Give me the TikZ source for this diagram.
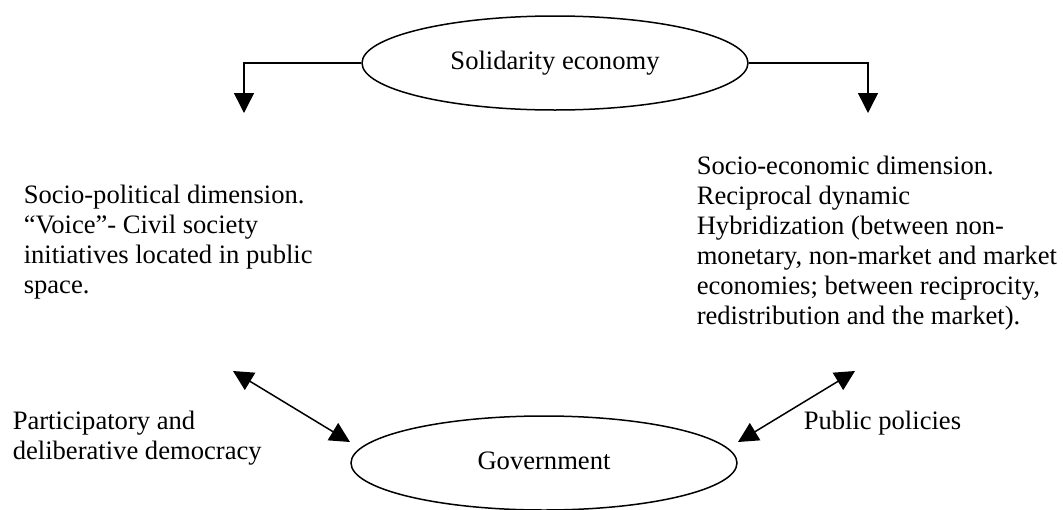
\documentclass[tikz,border=0pt]{standalone}
\usepackage{fontspec}
\setmainfont{Liberation Serif}
\usetikzlibrary{arrows.meta,shapes.geometric}
\newcommand{\arw}{-{Triangle[length=20pt,width=20pt]}}
\newcommand{\dblarw}{{Triangle[length=20pt,width=20pt]}-{Triangle[length=20pt,width=20pt]}}

\begin{document}
\begin{tikzpicture}[x=1pt,y=-1pt,line width=1.5pt,
  every node/.style={font=\fontsize{26.6}{30}\selectfont},
  oval/.style={draw,ellipse,minimum width=386pt,minimum height=94pt,inner sep=0pt,text depth=5.6pt},
  block/.style={anchor=north west,align=left,inner sep=0pt}]
\useasboundingbox (0,0) rectangle (1063,509);
%the two ovals
\node[oval] (solidarity) at (555,63) {Solidarity economy};
\node[oval] (government) at (544,463) {Government};
%dimensions
\node[block] (politic) at (23,184) {Socio-political dimension.\\“Voice”- Civil society\\initiatives located in public\\space.};
\node[block] (economic) at (696,155) {Socio-economic dimension.\\Reciprocal dynamic\\Hybridization (between non-\\monetary, non-market and market\\economies; between reciprocity,\\redistribution and the market).};
\node[block] (participation) at (12,410) {Participatory and\\deliberative democracy};
\node[block] (policies) at (803,410) {Public policies};
%arrow ends
\coordinate (poltip) at (244,113);
\coordinate (ecotip) at (868,113);
\coordinate (polend) at (233,371);
\coordinate (govleft) at (350,442);
\coordinate (govright) at (738,442);
\coordinate (ecoend) at (855,371);
%connectors
\draw[\arw] (solidarity.west) -| (poltip);
\draw[\arw] (solidarity.east) -| (ecotip);
\draw[\dblarw] (polend) -- (govleft);
\draw[\dblarw] (govright) -- (ecoend);
\end{tikzpicture}
\end{document}
